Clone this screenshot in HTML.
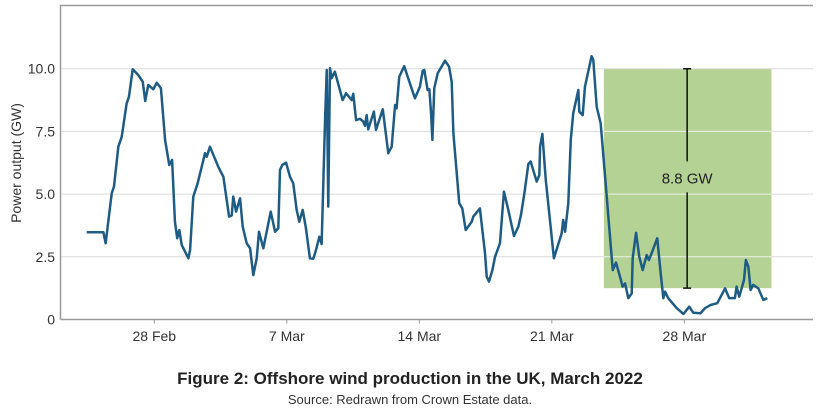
<!DOCTYPE html>
<html><head><meta charset="utf-8"><style>
body{margin:0;background:#fff;width:821px;height:411px;overflow:hidden;font-family:"Liberation Sans",sans-serif}
</style></head><body>
<svg width="821" height="411" xmlns="http://www.w3.org/2000/svg" id="chart" font-family="Liberation Sans, sans-serif"></svg>
<script>
const days=[-3.57,-2.69,-2.57,-2.25,-2.13,-1.9,-1.72,-1.46,-1.34,-1.14,-0.85,-0.61,-0.48,-0.32,-0.05,0.13,0.35,0.57,0.79,0.94,1.09,1.21,1.32,1.45,1.8,1.89,2.06,2.29,2.68,2.77,2.94,3.38,3.65,3.95,4.09,4.17,4.32,4.53,4.67,4.88,5.06,5.23,5.41,5.53,5.76,6.15,6.38,6.55,6.64,6.76,6.96,7.17,7.34,7.52,7.66,7.84,8.01,8.22,8.4,8.54,8.72,8.84,9.02,9.11,9.19,9.28,9.37,9.54,9.95,10.13,10.43,10.51,10.66,10.87,11.04,11.13,11.22,11.3,11.6,11.71,12.07,12.36,12.54,12.72,12.8,12.94,13.2,13.5,13.77,14.03,14.18,14.26,14.44,14.53,14.62,14.69,14.79,14.97,15.36,15.57,15.71,15.8,16.11,16.27,16.45,16.77,16.85,17.2,17.47,17.56,17.68,17.86,18.0,18.26,18.47,18.7,19.0,19.23,19.37,19.55,19.76,19.88,20.2,20.34,20.38,20.5,20.68,21.11,21.52,21.6,21.7,21.87,22.0,22.13,22.4,22.45,22.63,22.75,23.1,23.19,23.37,23.58,23.9,24.16,24.22,24.39,24.6,24.74,24.87,25.04,25.22,25.27,25.45,25.62,25.8,26.01,26.13,26.27,26.57,26.75,26.89,26.98,27.15,27.6,27.95,28.26,28.47,28.86,29.09,29.39,29.74,30.15,30.37,30.67,30.76,30.9,31.15,31.25,31.38,31.5,31.64,31.91,32.17,32.38];
const power=[3.48,3.48,3.04,5.03,5.3,6.89,7.29,8.62,8.88,9.98,9.75,9.48,8.71,9.35,9.18,9.44,9.22,7.16,6.16,6.36,3.9,3.24,3.57,2.97,2.44,2.77,4.9,5.43,6.63,6.49,6.89,6.09,5.69,4.1,4.15,4.9,4.3,4.83,3.7,3.04,2.84,1.77,2.44,3.5,2.84,4.3,3.5,3.64,5.96,6.16,6.25,5.69,5.43,4.37,3.9,4.37,3.64,2.44,2.42,2.77,3.3,3.01,7.95,9.95,4.5,10.02,9.62,9.88,8.75,9.02,8.75,9.0,7.95,8.0,7.89,7.72,8.15,7.58,8.29,7.56,8.38,6.63,6.89,8.55,8.42,9.68,10.1,9.42,8.82,9.28,9.92,9.95,9.15,9.18,8.22,7.16,9.22,9.82,10.32,10.08,9.48,7.42,4.63,4.43,3.57,3.9,4.1,4.43,2.64,1.71,1.51,1.97,2.5,3.04,5.1,4.37,3.33,3.7,4.17,5.03,6.2,6.3,5.5,5.76,6.89,7.4,5.56,2.44,3.44,3.97,3.5,4.63,7.16,8.22,9.15,8.29,8.15,9.28,10.5,10.35,8.48,7.82,4.9,2.5,1.97,2.27,1.71,1.31,1.44,0.85,1.04,2.44,3.46,2.5,1.97,2.57,2.37,2.64,3.24,1.84,0.85,1.11,0.85,0.45,0.22,0.51,0.27,0.25,0.45,0.58,0.65,1.24,0.85,0.85,1.31,0.91,1.57,2.37,2.11,1.18,1.38,1.24,0.78,0.85];
const yTicks=[0,2.5,5,7.5,10];
const yTickLabels=["0","2.5","5.0","7.5","10.0"];
const xTicks=[0,7,14,21,28];
const xTickLabels=["28 Feb","7 Mar","14 Mar","21 Mar","28 Mar"];
const band=[23.75,32.6,1.25,10.0];
const bandLabel="8.8 GW";
const NS="http://www.w3.org/2000/svg";
const svg=document.getElementById('chart');
const L=60.5,R=813,T=5.5,B=319.5;
const x=d=>154.3+d*18.93;
const y=v=>B-v*25.08;
function mk(t,a){const e=document.createElementNS(NS,t);for(const k in a)e.setAttribute(k,a[k]);svg.appendChild(e);return e;}
let e;
e=mk('rect',{x:x(band[0]),y:y(band[3]),width:x(band[1])-x(band[0]),height:y(band[2])-y(band[3]),fill:'#b3d293'});


yTicks.forEach((v,i)=>{
 if(v>0){e=mk('line',{x1:L,x2:R,y1:y(v),y2:y(v),stroke:v===10?'#dcdcdc':'#dcdcdc','stroke-width':1});
 
 }
 e=mk('text',{x:55,y:y(v)+5,'text-anchor':'end','font-size':14,fill:'#333'});e.textContent=yTickLabels[i];
 
 
});
// white gridlines inside band
yTicks.forEach(v=>{if(v>band[2]&&v<band[3]){e=mk('line',{x1:x(band[0]),x2:x(band[1]),y1:y(v),y2:y(v),stroke:'#e6f0dc','stroke-width':1});
 
 }});
e=mk('path',{d:`M${L},${B}V${T}H${R}`,fill:'none',stroke:'#999','stroke-width':1.5});


e=mk('line',{x1:L,x2:R,y1:B,y2:B,stroke:'#999','stroke-width':1.5});


xTicks.forEach((d,i)=>{
 e=mk('line',{x1:x(d),x2:x(d),y1:B,y2:B+4,stroke:'#999'});
 
 
 e=mk('text',{x:x(d),y:341,'text-anchor':'middle','font-size':14,fill:'#333'});e.textContent=xTickLabels[i];
 
 
});
const bx=x((band[0]+band[1])/2)-0.5, ym=(y(band[2])+y(band[3]))/2;
e=mk('path',{d:`M${bx-4},${y(band[3])}H${bx+4}M${bx},${y(band[3])}V${ym-17}M${bx},${ym+14}V${y(band[2])}M${bx-4},${y(band[2])}H${bx+4}`,stroke:'#111','stroke-width':1.5,fill:'none'});


e=mk('text',{x:bx,y:ym+5,'text-anchor':'middle','font-size':15,fill:'#222'});e.textContent=bandLabel;


e=mk('polyline',{points:days.map((d,i)=>x(d)+','+y(power[i])).join(' '),fill:'none',stroke:'#1f5c85','stroke-width':2.5,'stroke-linejoin':'round'});


e=mk('text',{x:0,y:0,transform:'translate(21,163) rotate(-90)','text-anchor':'middle','font-size':14,fill:'#333'});e.textContent='Power output (GW)';


e=mk('text',{x:410,y:384,'text-anchor':'middle','font-size':17,'font-weight':'bold',fill:'#222'});e.textContent='Figure 2: Offshore wind production in the UK, March 2022';


e=mk('text',{x:410,y:404,'text-anchor':'middle','font-size':13,fill:'#333'});e.textContent='Source: Redrawn from Crown Estate data.';


</script>
</body></html>
